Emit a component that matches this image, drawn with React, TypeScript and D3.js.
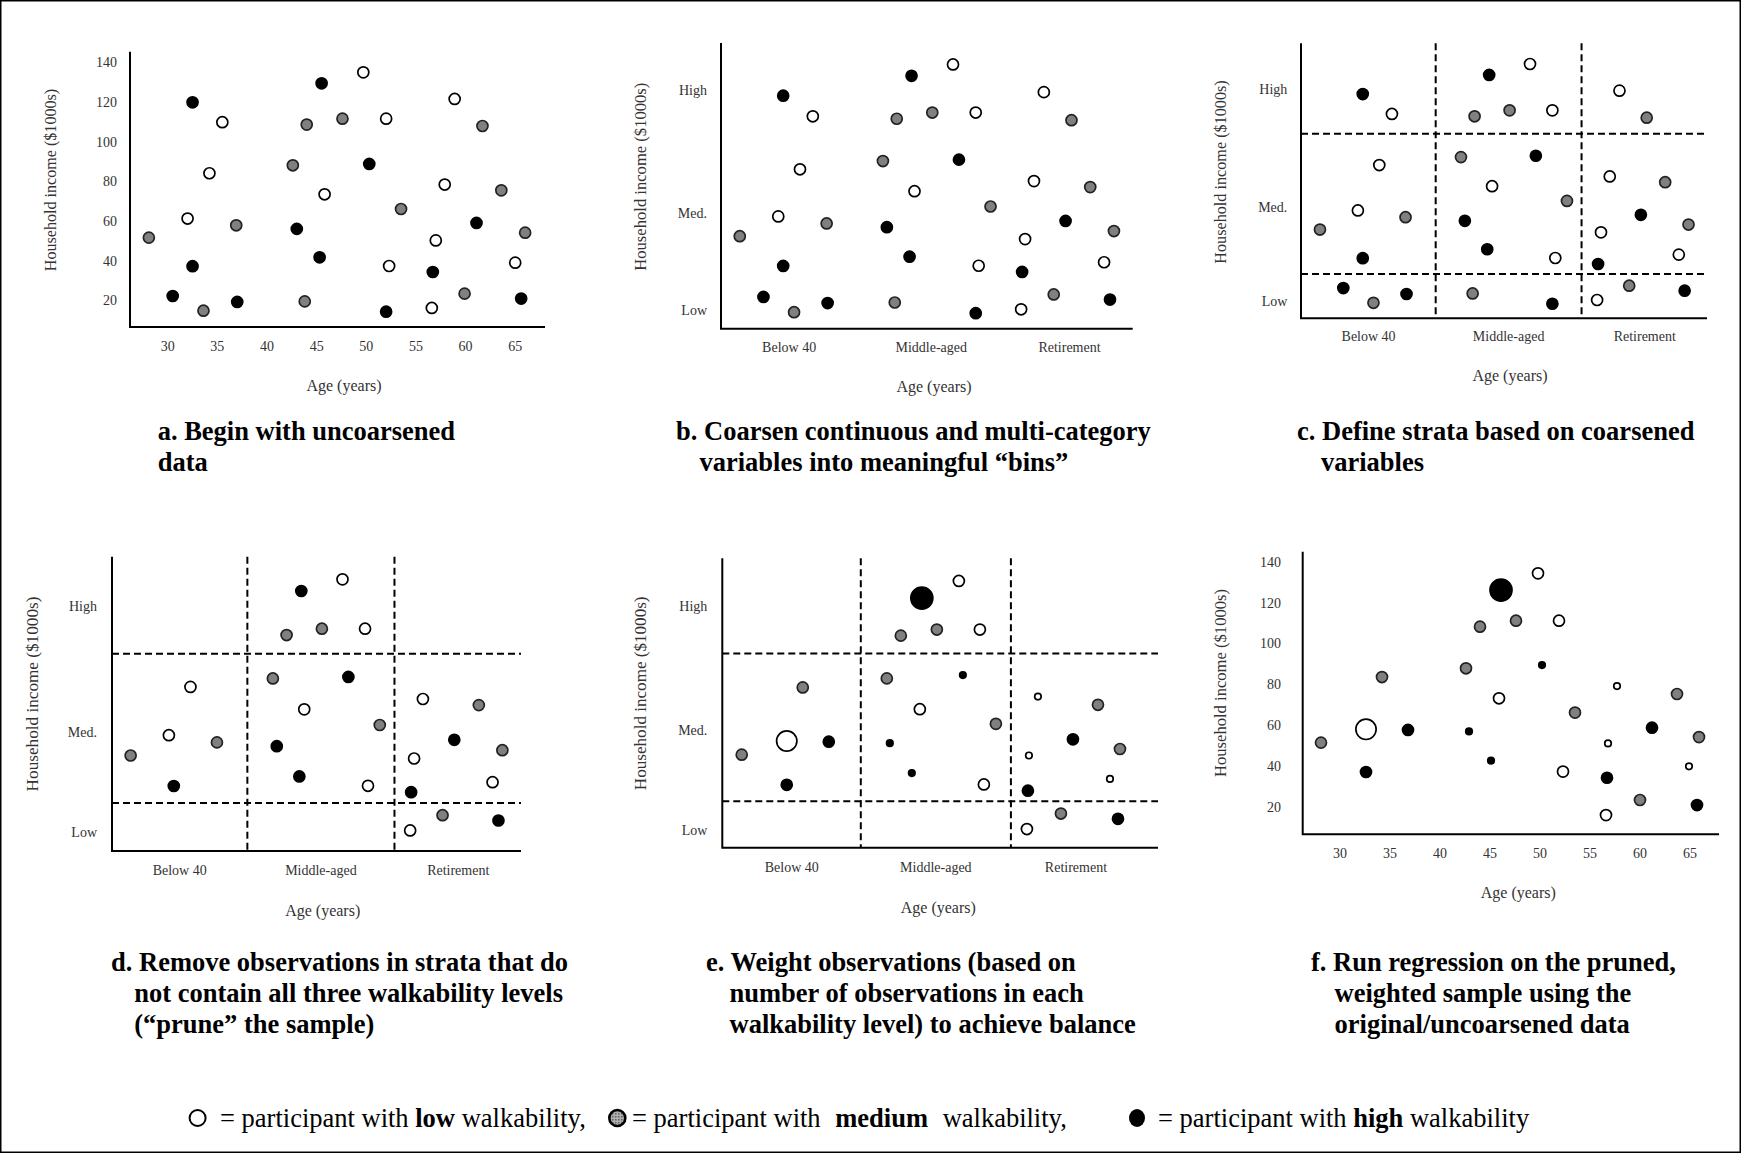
import React from 'react';
import * as d3 from 'd3';

type Level = 'low' | 'med' | 'high';

// uncoarsened sample (panels a-d)
const ages = [28.1, 30.5, 32, 32.5, 32.5, 33.6, 34.2, 35.5, 36.9, 37, 42.6, 43, 43.8, 44, 45.3, 45.5, 45.8, 47.6, 49.7, 50.3, 52, 52, 52.3, 53.5, 56.6, 56.7, 57, 57.9, 58.9, 59.9, 61.1, 61.7, 63.6, 65, 65.6, 66];
const incomes = [51.9, 22.5, 61.5, 120, 37.5, 15.1, 84.3, 110, 58.1, 19.5, 88.3, 56.3, 19.8, 108.8, 42, 129.6, 73.7, 111.8, 135.1, 89, 111.8, 14.6, 37.6, 66.3, 16.5, 34.6, 50.5, 78.6, 121.7, 23.7, 59.3, 108.1, 75.7, 39.3, 21.2, 54.4];
const walk: Level[] = ['med', 'high', 'low', 'high', 'high', 'med', 'low', 'low', 'med', 'high', 'med', 'high', 'med', 'med', 'high', 'high', 'low', 'med', 'low', 'high', 'low', 'high', 'low', 'med', 'low', 'high', 'low', 'low', 'low', 'med', 'high', 'med', 'med', 'low', 'high', 'med'];

// pruned + weighted sample (panels e-f)
const agesW = [28.1, 32.6, 32.6, 34.2, 36.8, 42.6, 42.9, 44, 45.1, 46.1, 45.9, 47.6, 49.8, 50.2, 51.9, 52.3, 53.5, 56.6, 56.7, 56.8, 57.7, 60, 61.2, 63.7, 64.9, 65.7, 65.9];
const incomesW = [51.7, 58.2, 37.3, 83.8, 57.9, 88.1, 57.2, 108.5, 42.9, 126.4, 73.4, 111.4, 134.6, 89.7, 111.4, 37.5, 66.4, 16.2, 34.5, 51.3, 79.4, 23.6, 59, 75.5, 40.1, 21.1, 54.4];
const walkW: Level[] = ['med', 'low', 'high', 'med', 'high', 'med', 'high', 'med', 'high', 'high', 'low', 'med', 'low', 'high', 'low', 'low', 'med', 'low', 'high', 'low', 'low', 'med', 'high', 'med', 'low', 'high', 'med'];
const weights = [1, 3.4, 1, 1, 1, 1, 0.35, 1, 0.35, 4, 1, 1, 1, 0.35, 1, 1, 1, 1, 1, 0.35, 0.35, 1, 1, 1, 0.35, 1, 1];

// axes
const ageTicks = [30, 35, 40, 45, 50, 55, 60, 65];
const incomeTicks = [20, 40, 60, 80, 100, 120, 140];
const ageBins = ['Below 40', 'Middle-aged', 'Retirement'];
const ageBinCenters = [33.1, 47.5, 61.5];
const incomeBins = ['Low', 'Med.', 'High'];
const incomeBinCenters = [15.7, 63, 122.4];
const ageCuts = [40, 55];
const incomeCuts = [29.5, 100];

const fillOf = { low: '#ffffff', med: '#808080', high: '#000000' };
const FONT = '"Liberation Serif", "Times New Roman", Times, serif';

type Pt = { age: number; income: number; level: Level; w: number };

const raw: Pt[] = ages.map((a, i) => ({ age: a, income: incomes[i], level: walk[i], w: 1 }));
const weighted: Pt[] = agesW.map((a, i) => ({ age: a, income: incomesW[i], level: walkW[i], w: weights[i] }));

// keep only strata that contain all three walkability levels
const stratum = (p: Pt) => `${d3.bisectRight(ageCuts, p.age)}-${d3.bisectRight(incomeCuts, p.income)}`;
const levelsByStratum = d3.rollup(raw, v => new Set(v.map(p => p.level)).size, stratum);
const pruned = raw.filter(p => levelsByStratum.get(stratum(p)) === 3);

const rScale = d3.scaleSqrt().domain([0, 1]).range([0, 5.5]);

type PanelCfg = {
  left: number; right: number; top: number; bottom: number;
  xDom: [number, number]; yDom: [number, number];
  numeric: boolean; strata: boolean;
  data: Pt[];
  yLabelX: number; xLabelY: number;
  titleX: number; titleY: number;
  yTitleX: number; yTitleY: number; yTitleSize: number;
  caption: { x: number; text: string }[]; captionY: number;
};

const Panel = ({ c }: { c: PanelCfg }) => {
  const x = d3.scaleLinear().domain(c.xDom).range([c.left, c.right]);
  const y = d3.scaleLinear().domain(c.yDom).range([c.bottom, c.top]);
  const tickStyle = { fontFamily: FONT, fontSize: 14, fill: '#333' };
  return (
    <g>
      {c.strata && (
        <g stroke="#000" strokeWidth={2} strokeDasharray="7 4">
          {ageCuts.map(a => <line key={'v' + a} x1={x(a)} x2={x(a)} y1={c.top} y2={c.bottom} />)}
          {incomeCuts.map(v => <line key={'h' + v} x1={c.left} x2={c.right} y1={y(v)} y2={y(v)} />)}
        </g>
      )}
      <path d={`M${c.left},${c.top}V${c.bottom}H${c.right}`} fill="none" stroke="#000" strokeWidth={2} />
      {c.numeric ? (
        <g style={tickStyle}>
          {incomeTicks.map(t => (
            <text key={'y' + t} x={c.yLabelX} y={y(t)} textAnchor="end" dominantBaseline="central">{t}</text>
          ))}
          {ageTicks.map(t => (
            <text key={'x' + t} x={x(t)} y={c.xLabelY} textAnchor="middle" dominantBaseline="central">{t}</text>
          ))}
        </g>
      ) : (
        <g style={tickStyle}>
          {incomeBins.map((t, i) => (
            <text key={t} x={c.yLabelX} y={y(incomeBinCenters[i])} textAnchor="end" dominantBaseline="central">{t}</text>
          ))}
          {ageBins.map((t, i) => (
            <text key={t} x={x(ageBinCenters[i])} y={c.xLabelY} textAnchor="middle" dominantBaseline="central">{t}</text>
          ))}
        </g>
      )}
      <text x={c.titleX} y={c.titleY} textAnchor="middle" dominantBaseline="central"
        style={{ fontFamily: FONT, fontSize: 16, fill: '#333' }}>Age (years)</text>
      <text transform={`translate(${c.yTitleX},${c.yTitleY}) rotate(-90)`} textAnchor="middle" dominantBaseline="central"
        style={{ fontFamily: FONT, fontSize: c.yTitleSize, fill: '#333' }}>Household income ($1000s)</text>
      {c.data.map((p, i) => (
        <circle key={i} cx={x(p.age)} cy={y(p.income)} r={rScale(p.w)}
          fill={fillOf[p.level]} stroke={p.level === 'med' ? '#222' : '#000'} strokeWidth={1.7} />
      ))}
      {c.caption.map((l, i) => (
        <text key={i} x={l.x} y={c.captionY + i * 31.3} dominantBaseline="central"
          style={{ fontFamily: FONT, fontSize: 26.5, fontWeight: 'bold', fill: '#000' }}>{l.text}</text>
      ))}
    </g>
  );
};

const panels: PanelCfg[] = [
  {
    left: 130, right: 545, top: 51.7, bottom: 327, xDom: [26.2, 68], yDom: [6.9, 145.5],
    numeric: true, strata: false, data: raw, yLabelX: 117, xLabelY: 346,
    titleX: 344, titleY: 385, yTitleX: 50.7, yTitleY: 180, yTitleSize: 16.1,
    caption: [{ x: 157.7, text: 'a. Begin with uncoarsened' }, { x: 157.7, text: 'data' }], captionY: 431
  },
  {
    left: 721, right: 1132.7, top: 43, bottom: 328.7, xDom: [26.2, 67.9], yDom: [7.1, 145.5],
    numeric: false, strata: false, data: raw, yLabelX: 707, xLabelY: 347,
    titleX: 934, titleY: 386.7, yTitleX: 640.7, yTitleY: 176.7, yTitleSize: 16.6,
    caption: [{ x: 676, text: 'b. Coarsen continuous and multi-category' }, { x: 699.5, text: 'variables into meaningful \u201Cbins\u201D' }], captionY: 431
  },
  {
    left: 1301, right: 1707, top: 43.3, bottom: 318.3, xDom: [26.15, 67.9], yDom: [7.3, 145.5],
    numeric: false, strata: true, data: raw, yLabelX: 1287.3, xLabelY: 336.7,
    titleX: 1510, titleY: 375, yTitleX: 1220.7, yTitleY: 172, yTitleSize: 16.2,
    caption: [{ x: 1297, text: 'c. Define strata based on coarsened' }, { x: 1321, text: 'variables' }], captionY: 431
  },
  {
    left: 112, right: 521, top: 556.7, bottom: 851, xDom: [26.2, 67.9], yDom: [6.8, 145.8],
    numeric: false, strata: true, data: pruned, yLabelX: 97, xLabelY: 870,
    titleX: 322.7, titleY: 910, yTitleX: 32.7, yTitleY: 694, yTitleSize: 17.2,
    caption: [
      { x: 111, text: 'd. Remove observations in strata that do' },
      { x: 134.3, text: 'not contain all three walkability levels' },
      { x: 134.3, text: '(\u201Cprune\u201D the sample)' }
    ], captionY: 961.5
  },
  {
    left: 722.3, right: 1158, top: 558.3, bottom: 847.7, xDom: [26.16, 69.7], yDom: [7.3, 145.4],
    numeric: false, strata: true, data: weighted, yLabelX: 707.3, xLabelY: 867.7,
    titleX: 938.3, titleY: 907.3, yTitleX: 640.7, yTitleY: 693.3, yTitleSize: 17.1,
    caption: [
      { x: 706, text: 'e. Weight observations (based on' },
      { x: 729.5, text: 'number of observations in each' },
      { x: 729.5, text: 'walkability level) to achieve balance' }
    ], captionY: 961.5
  },
  {
    left: 1302.7, right: 1719, top: 551.7, bottom: 834.3, xDom: [26.27, 67.9], yDom: [6.8, 145.2],
    numeric: true, strata: false, data: weighted, yLabelX: 1281, xLabelY: 853.3,
    titleX: 1518.3, titleY: 892.7, yTitleX: 1220.7, yTitleY: 683, yTitleSize: 16.6,
    caption: [
      { x: 1311, text: 'f. Run regression on the pruned,' },
      { x: 1334.6, text: 'weighted sample using the' },
      { x: 1334.6, text: 'original/uncoarsened data' }
    ], captionY: 961.5
  }
];

const legendItems = [
  { level: 'low', cx: 197.6, tx: 220, key: 'low', post: ' walkability,', gap: 0 },
  { level: 'med', cx: 617.3, tx: 632, key: 'medium', post: ' walkability,', gap: 8 },
  { level: 'high', cx: 1137, tx: 1158, key: 'high', post: ' walkability', gap: 0 }
];

export default function App() {
  return (
    <svg width={1741} height={1153} style={{ position: 'absolute', left: 0, top: 0, background: '#fff' }}>
      <defs>
        <pattern id="dots" width={3} height={3} patternUnits="userSpaceOnUse">
          <rect width={3} height={3} fill="#b0b0b0" />
          <rect width={1.5} height={1.5} fill="#606060" />
        </pattern>
      </defs>
      <rect x={0.75} y={0.75} width={1739.5} height={1151.5} fill="#fff" stroke="#000" strokeWidth={1.5} />
      {panels.map((c, i) => <Panel key={i} c={c} />)}
      <g>
        {legendItems.map(l => (
          <g key={l.level}>
            {l.level === 'high'
              ? <ellipse cx={l.cx} cy={1118} rx={8} ry={9} fill="#000" />
              : <circle cx={l.cx} cy={1118} r={8} fill={l.level === 'low' ? '#fff' : 'url(#dots)'}
                stroke="#000" strokeWidth={l.level === 'low' ? 2 : 2.6} />}
            <text x={l.tx} y={1118} dominantBaseline="central" style={{ fontFamily: FONT, fontSize: 26.5, fill: '#000' }}>
              {'= participant with '}
              <tspan fontWeight="bold" dx={l.gap}>{l.key}</tspan>
              <tspan dx={l.gap}>{l.post}</tspan>
            </text>
          </g>
        ))}
      </g>
    </svg>
  );
}
